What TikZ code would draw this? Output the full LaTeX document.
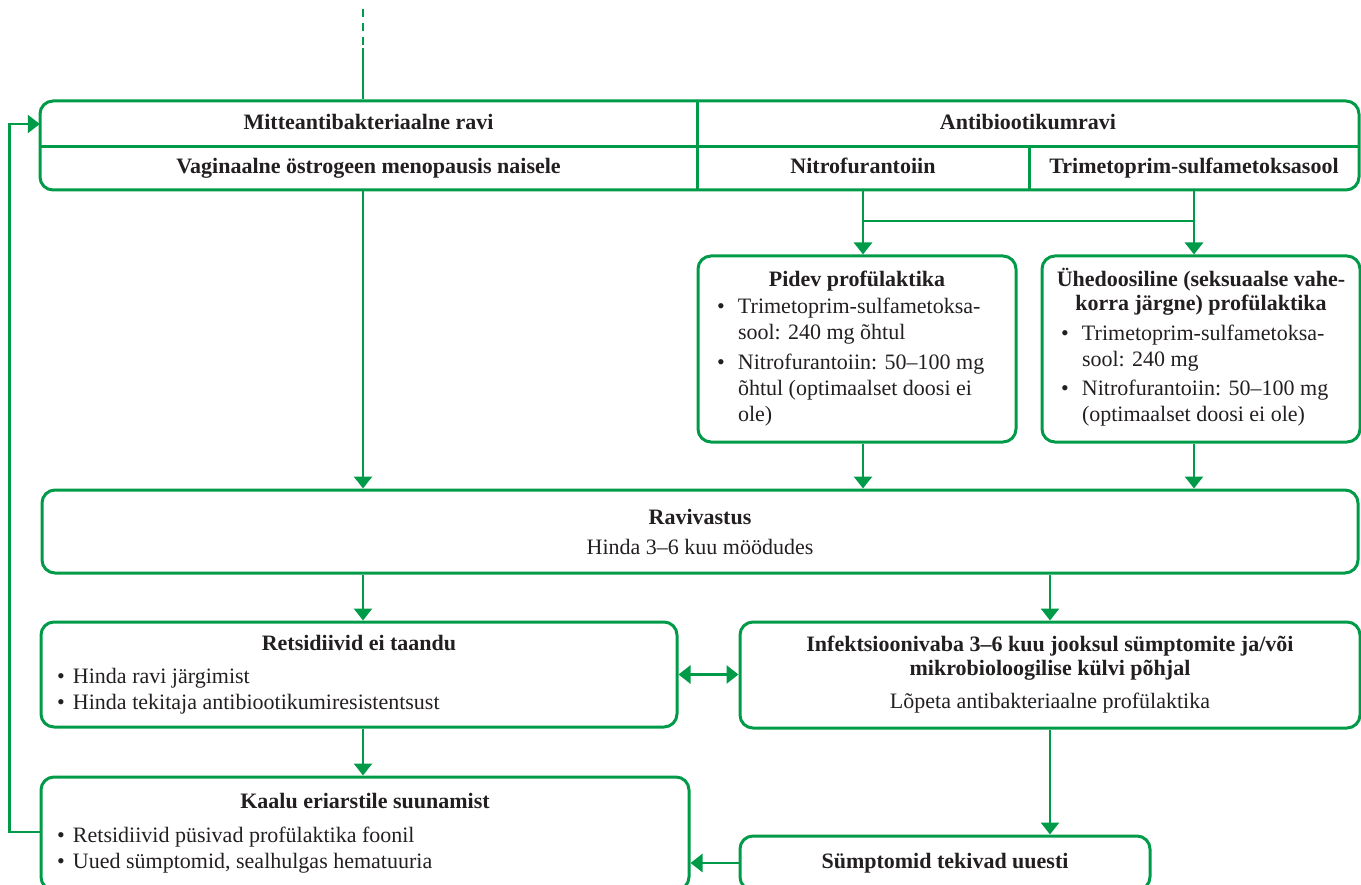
\documentclass[tikz,border=0pt]{standalone}
\usepackage{fontspec}
\setmainfont{Liberation Serif}
\usetikzlibrary{arrows.meta}
\definecolor{gr}{RGB}{0,155,72}
\definecolor{ink}{RGB}{35,31,32}
\begin{document}
\begin{tikzpicture}[x=1pt,y=-1pt,
  every node/.style={text=ink, font=\fontsize{22}{26}\selectfont},
  box/.style={draw=gr, line width=3pt, rounded corners=13pt, inner sep=0pt},
  cell/.style={inner sep=0pt, font=\fontsize{22}{26}\selectfont\bfseries},
  divl/.style={draw=gr, line width=3pt},
  conn/.style={draw=gr, line width=2.7pt},
  arr/.style={conn, -{Triangle[length=12pt,width=18pt]}},
  darr/.style={conn, {Triangle[length=12pt,width=18pt]}-{Triangle[length=12pt,width=18pt]}},
]
\useasboundingbox (0,0) rectangle (1361,885);
\clip (0,0) rectangle (1361,885);

% top table
\node[box, minimum width=1319pt, minimum height=89pt] (top) at (699.5,145.5) {};
\node[cell, minimum width=657pt, minimum height=44pt] (mitte) at (368.5,124) {\strut Mitteantibakteriaalne ravi};
\node[cell, minimum width=662pt, minimum height=44pt] (anti) at (1028,124) {\strut Antibiootikumravi};
\node[cell, minimum width=657pt, minimum height=44pt] (vag) at (368.5,168) {\strut Vaginaalne östrogeen menopausis naisele};
\node[cell, minimum width=332pt, minimum height=44pt] (nitro) at (863,168) {\strut Nitrofurantoiin};
\node[cell, minimum width=330pt, minimum height=44pt] (trim) at (1194,168) {\strut Trimetoprim-sulfametoksasool};
\draw[divl] (mitte.south west) -- (anti.south east);
\draw[divl] (mitte.north east) -- (vag.south east);
\draw[divl] (nitro.north east) -- (nitro.south east);

% prophylaxis boxes
\node[box, minimum width=318pt, minimum height=186pt] (pidev) at (857,349) {%
\begin{tabular}[c]{@{}l@{}l@{}}
\multicolumn{2}{@{}l@{}}{\makebox[280pt][c]{\bfseries Pidev profülaktika}}\\[1pt]
\makebox[21pt][l]{\textbullet} & Trimetoprim-sulfametoksa-\\
 & sool: 240 mg õhtul\\[4pt]
\makebox[21pt][l]{\textbullet} & Nitrofurantoiin: 50–100 mg\\
 & õhtul (optimaalset doosi ei\\
 & ole)
\end{tabular}};
\node[box, minimum width=318pt, minimum height=186pt] (uhe) at (1201,349) {%
\begin{tabular}[c]{@{}l@{}l@{}}
\multicolumn{2}{@{}l@{}}{\makebox[280pt][c]{\bfseries Ühedoosiline (seksuaalse vahe-}}\\[-2pt]
\multicolumn{2}{@{}l@{}}{\makebox[280pt][c]{\bfseries korra järgne) profülaktika}}\\[4pt]
\makebox[21pt][l]{\textbullet} & Trimetoprim-sulfametoksa-\\
 & sool: 240 mg\\[3pt]
\makebox[21pt][l]{\textbullet} & Nitrofurantoiin: 50–100 mg\\
 & (optimaalset doosi ei ole)
\end{tabular}};

% Ravivastus
\node[box, align=center, minimum width=1316pt, minimum height=83pt] (rav) at (700,531.5) {\textbf{Ravivastus}\\[4pt]Hinda 3–6 kuu möödudes};

% Retsidiivid
\node[box, minimum width=636pt, minimum height=105pt] (ret) at (359,674.5) {%
\begin{tabular}[c]{@{}l@{}l@{}}
\multicolumn{2}{@{}l@{}}{\makebox[604pt][c]{\bfseries Retsidiivid ei taandu}}\\[7pt]
\makebox[16pt][l]{\textbullet} & Hinda ravi järgimist\\
\makebox[16pt][l]{\textbullet} & Hinda tekitaja antibiootikumiresistentsust
\end{tabular}};

% Infektsioonivaba
\node[box, align=center, minimum width=620pt, minimum height=106pt] (inf) at (1050,675) {\textbf{Infektsioonivaba 3–6 kuu jooksul sümptomite ja/või}\\[-2pt]\textbf{mikrobioloogilise külvi põhjal}\\[7pt]Lõpeta antibakteriaalne profülaktika};

% Kaalu
\node[box, minimum width=648pt, minimum height=113pt] (kaalu) at (365,833.5) {%
\begin{tabular}[c]{@{}l@{}l@{}}
\multicolumn{2}{@{}l@{}}{\makebox[616pt][c]{\bfseries Kaalu eriarstile suunamist}}\\[8pt]
\makebox[16pt][l]{\textbullet} & Retsidiivid püsivad profülaktika foonil\\
\makebox[16pt][l]{\textbullet} & Uued sümptomid, sealhulgas hematuuria
\end{tabular}};

% Sumptomid
\node[box, minimum width=410pt, minimum height=54pt] (sym) at (945,863) {\textbf{Sümptomid tekivad uuesti}};

% incoming dashed line
\coordinate (start) at (363,9);
\coordinate (mid) at (363,48);
\draw[conn, dash pattern=on 8pt off 6pt] (start) -- (mid);
\draw[conn] (mid) -- (mid |- top.north);

% connectors
\draw[arr] (vag.south -| start) -- (rav.north -| start);
\coordinate (join) at (863,221);
\draw[conn] (nitro.south |- join) -- (trim.south |- join);
\draw[arr] (nitro.south) -- (nitro.south |- pidev.north);
\draw[arr] (trim.south) -- (trim.south |- uhe.north);
\draw[arr] (nitro.south |- pidev.south) -- (nitro.south |- rav.north);
\draw[arr] (trim.south |- uhe.south) -- (trim.south |- rav.north);
\draw[arr] (rav.south -| start) -- (ret.north -| start);
\draw[arr] (inf.north |- rav.south) -- (inf.north);
\draw[darr] (ret.east) -- (ret.east -| inf.west);
\draw[arr] (ret.south -| start) -- (kaalu.north -| start);
\draw[arr] (inf.south) -- (inf.south |- sym.north);
\draw[arr] (sym.west) -- (sym.west -| kaalu.east);
\draw[arr] (kaalu.west |- 0,832) -- ++(-30,0) |- (mitte.west);
\end{tikzpicture}
\end{document}
